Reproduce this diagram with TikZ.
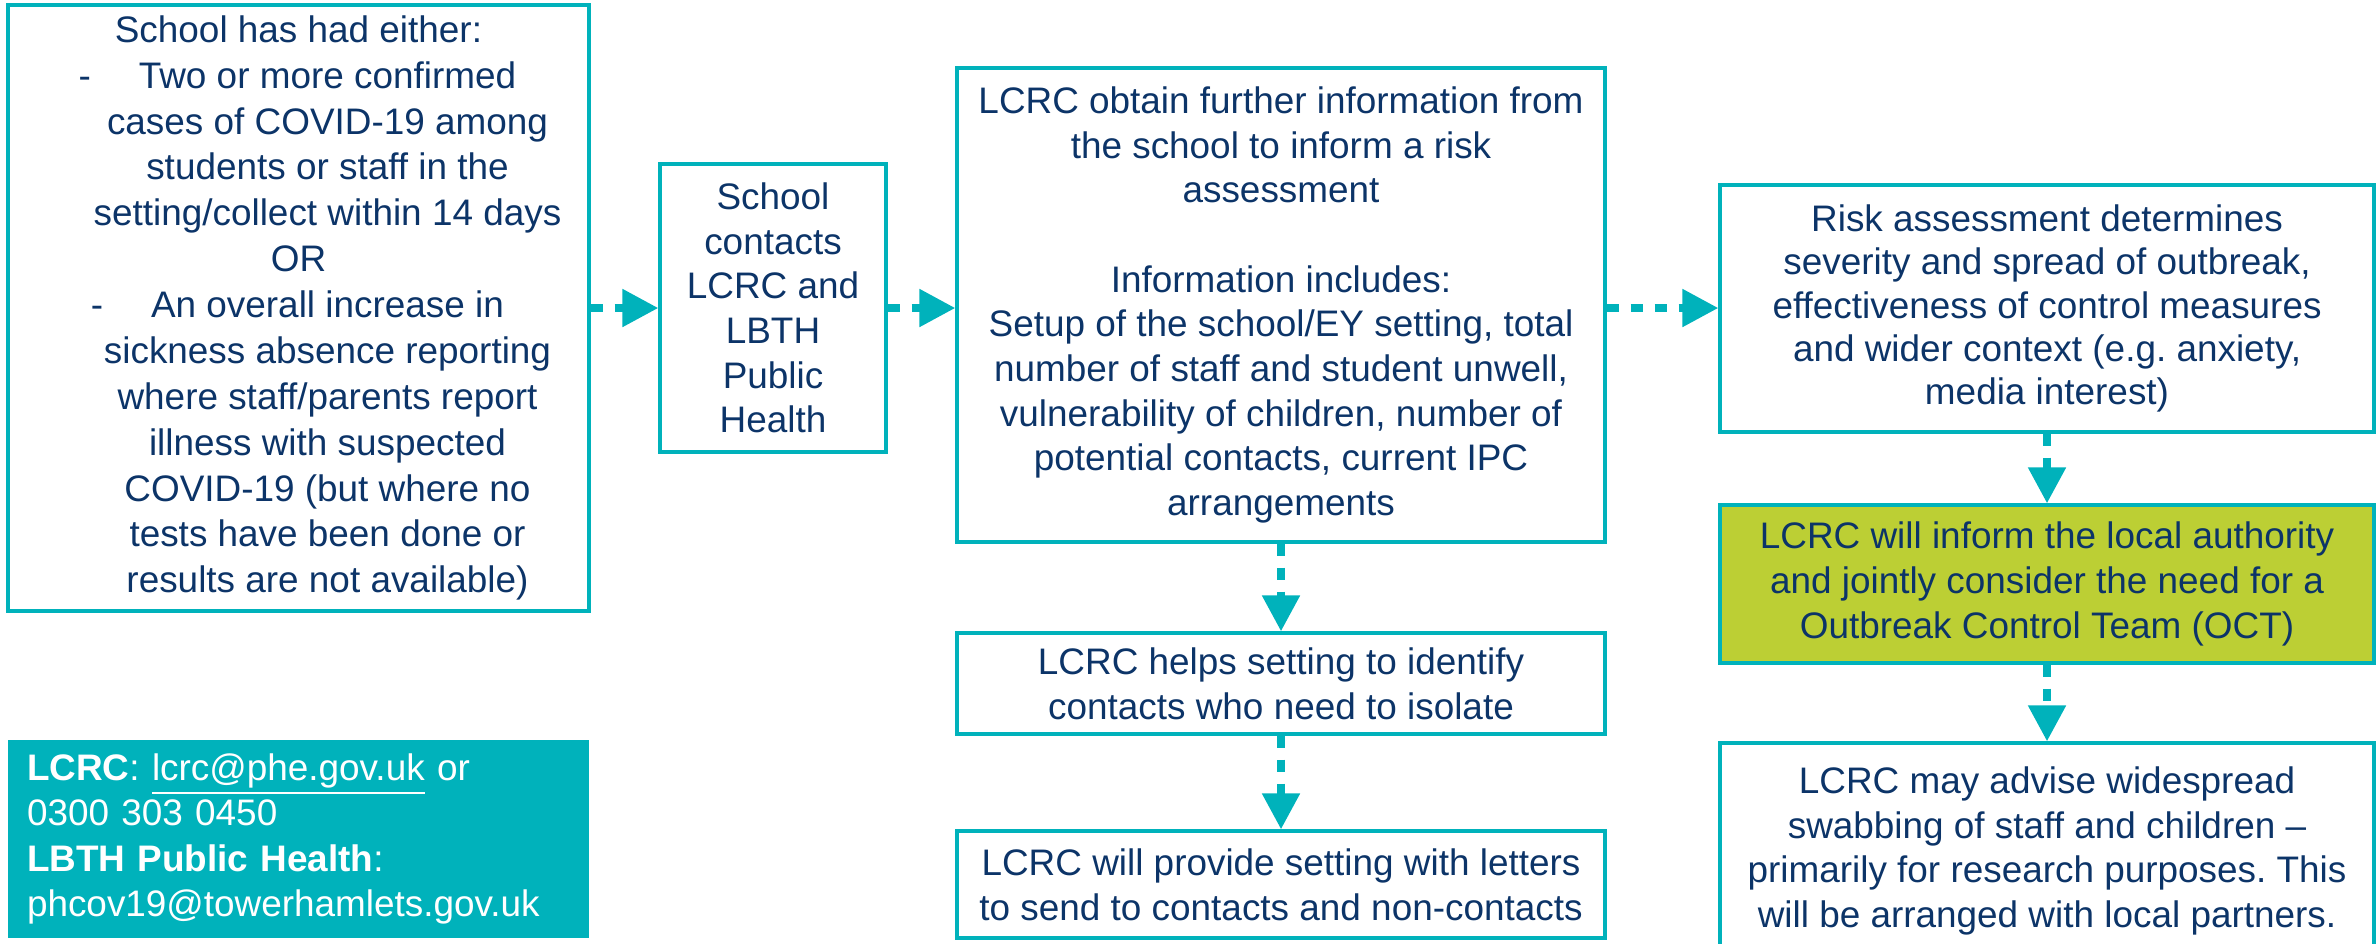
\documentclass[tikz,border=0pt]{standalone}
\usepackage{fontspec}
\setmainfont{Liberation Sans}
\usetikzlibrary{arrows.meta}
\definecolor{phTeal}{RGB}{0,178,187}
\definecolor{phNavy}{RGB}{12,52,104}
\definecolor{phGreen}{RGB}{188,207,52}
\newcommand{\indentLine}[1]{\hspace*{0.58cm}#1}
\newcommand{\bulletLine}[1]{\hspace*{0.58cm}\llap{-\hspace{0.48cm}}#1}
\frenchspacing

\begin{document}
\begin{tikzpicture}[
  stepbox/.style={draw=phTeal, line width=0.9pt, text=phNavy, align=center,
    inner sep=0pt, font=\fontsize{10.5}{12.7}\selectfont},
  octbox/.style={stepbox, fill=phGreen},
  contactbox/.style={fill=phTeal, text=white, align=left, inner xsep=0.19cm,
    text width=5.43cm, minimum height=1.98cm, font=\fontsize{10.5}{12.9}\selectfont},
  flowarrow/.style={draw=phTeal, line width=0.08cm, dash pattern=on 0.12cm off 0.12cm,
    -{Triangle[length=0.36cm,width=0.36cm]}}
]
\useasboundingbox (0,0) rectangle (23.79,-9.43);
\clip (0,0) rectangle (23.79,-9.43);

% left column
\node[stepbox, minimum width=5.81cm, minimum height=6.06cm,
  font=\fontsize{10.5}{13.05}\selectfont] (cond) at (2.985,-3.08)
  {School has had either:\\
   \bulletLine{Two or more confirmed}\\
   \indentLine{cases of COVID-19 among}\\
   \indentLine{students or staff in the}\\
   \indentLine{setting/collect within 14 days}\\
   OR\\
   \bulletLine{An overall increase in}\\
   \indentLine{sickness absence reporting}\\
   \indentLine{where staff/parents report}\\
   \indentLine{illness with suspected}\\
   \indentLine{COVID-19 (but where no}\\
   \indentLine{tests have been done or}\\
   \indentLine{results are not available)}};
\node[contactbox] (contact) at (2.985,-8.39)
  {\textbf{LCRC}: \underline{lcrc@phe.gov.uk} or\\
   0300 303 0450\\
   \textbf{LBTH Public Health}:\\
   phcov19@towerhamlets.gov.uk};

% middle
\node[stepbox, minimum width=2.26cm, minimum height=2.88cm] (school) at (7.73,-3.08)
  {School\\contacts\\LCRC and\\LBTH\\Public\\Health};
\node[stepbox, minimum width=6.48cm, minimum height=4.74cm] (info) at (12.81,-3.05)
  {LCRC obtain further information from\\
   the school to inform a risk\\
   assessment\\[12.7pt]
   Information includes:\\
   Setup of the school/EY setting, total\\
   number of staff and student unwell,\\
   vulnerability of children, number of\\
   potential contacts, current IPC\\
   arrangements};
\node[stepbox, minimum width=6.48cm, minimum height=1.01cm] (isolate) at (12.81,-6.835)
  {LCRC helps setting to identify\\contacts who need to isolate};
\node[stepbox, minimum width=6.48cm, minimum height=1.07cm] (letters) at (12.81,-8.845)
  {LCRC will provide setting with letters\\to send to contacts and non-contacts};

% right column
\node[stepbox, minimum width=6.54cm, minimum height=2.47cm,
  font=\fontsize{10.5}{12.3}\selectfont] (risk) at (20.47,-3.085)
  {Risk assessment determines\\
   severity and spread of outbreak,\\
   effectiveness of control measures\\
   and wider context (e.g. anxiety,\\
   media interest)};
\node[octbox, minimum width=6.54cm, minimum height=1.58cm] (oct) at (20.47,-5.84)
  {LCRC will inform the local authority\\
   and jointly consider the need for a\\
   Outbreak Control Team (OCT)};
\node[stepbox, minimum width=6.54cm, minimum height=2.16cm] (swab) at (20.47,-8.51)
  {LCRC may advise widespread\\
   swabbing of staff and children --\\
   primarily for research purposes. This\\
   will be arranged with local partners.};

% connectors
\draw[flowarrow] (cond.east) -- (school.west);
\draw[flowarrow] (school.east) -- (school.east -| info.west);
\draw[flowarrow] (info.east |- school.east) -- (school.east -| risk.west);
\draw[flowarrow] (info.south) -- (isolate.north);
\draw[flowarrow] (isolate.south) -- (letters.north);
\draw[flowarrow] (risk.south) -- (oct.north);
\draw[flowarrow] (oct.south) -- (swab.north);
\end{tikzpicture}
\end{document}
